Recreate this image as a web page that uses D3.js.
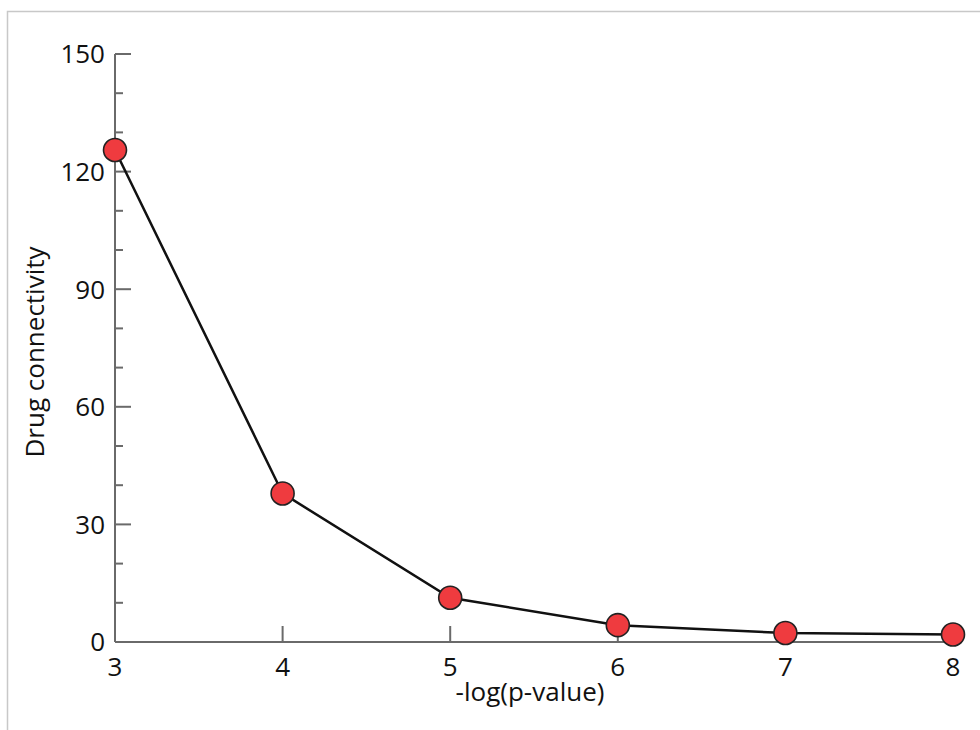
<!DOCTYPE html>
<html><head><meta charset="utf-8">
<script src="https://cdn.jsdelivr.net/npm/d3@7"></script>
<style>body{margin:0;background:#fff}svg{display:block}text{font-family:"Open Sans",sans-serif;fill:#111}</style>
</head><body>
<svg id="c" width="980" height="730"></svg>
<script>
const xValues = [3, 4, 5, 6, 7, 8];
const connectivity = [125.5, 37.9, 11.3, 4.3, 2.3, 1.9];
const yMajorTicks = [0, 30, 60, 90, 120, 150];
const yMinorTicks = [10, 20, 40, 50, 70, 80, 100, 110, 130, 140];
const xTicks = [3, 4, 5, 6, 7, 8];
const xLabel = "-log(p-value)";
const yLabel = "Drug connectivity";

const svg = d3.select("#c");
// frame
svg.append("path").attr("d","M7.5,730 V11.5 H980").attr("fill","none").attr("stroke","#c8c8c8").attr("stroke-width",1.5);

const x = d3.scaleLinear().domain([3,8]).range([115,953]);
const y = d3.scaleLinear().domain([0,150]).range([642,54]);
const axisColor = "#6a6a6a";

// y axis
const gy = svg.append("g");
gy.append("line").attr("x1",x(3)).attr("x2",x(3)).attr("y1",y(0)).attr("y2",y(150)).attr("stroke",axisColor).attr("stroke-width",2);
gy.selectAll(".maj").data(yMajorTicks).join("line").attr("x1",x(3)).attr("x2",x(3)+16).attr("y1",d=>y(d)).attr("y2",d=>y(d)).attr("stroke",axisColor).attr("stroke-width",2);
gy.selectAll(".min").data(yMinorTicks).join("line").attr("x1",x(3)).attr("x2",x(3)+8).attr("y1",d=>y(d)).attr("y2",d=>y(d)).attr("stroke",axisColor).attr("stroke-width",2);
gy.selectAll("text").data(yMajorTicks).join("text").attr("x",105).attr("y",d=>y(d)).attr("dy","0.36em").attr("text-anchor","end").attr("font-size",26).text(d=>d);

// x axis
const gx = svg.append("g");
gx.append("line").attr("x1",x(3)).attr("x2",x(8)).attr("y1",y(0)).attr("y2",y(0)).attr("stroke",axisColor).attr("stroke-width",2);
gx.selectAll("line.t").data(xTicks).join("line").attr("class","t").attr("x1",d=>x(d)).attr("x2",d=>x(d)).attr("y1",y(0)).attr("y2",y(0)-16).attr("stroke",axisColor).attr("stroke-width",2);
gx.selectAll("text").data(xTicks).join("text").attr("x",d=>x(d)).attr("y",y(0)+34).attr("text-anchor","middle").attr("font-size",26).text(d=>d);

svg.append("text").attr("x",530).attr("y",701).attr("text-anchor","middle").attr("font-size",26).text(xLabel);
svg.append("text").attr("transform","translate(44,352) rotate(-90)").attr("text-anchor","middle").attr("font-size",26).text(yLabel);

const data = xValues.map((v,i)=>({x:v,y:connectivity[i]}));
svg.append("path").datum(data).attr("d",d3.line().x(d=>x(d.x)).y(d=>y(d.y))).attr("fill","none").attr("stroke","#111").attr("stroke-width",2.5);
svg.selectAll("circle").data(data).join("circle").attr("cx",d=>x(d.x)).attr("cy",d=>y(d.y)).attr("r",11.5).attr("fill","#ef3b3f").attr("stroke","#222").attr("stroke-width",1.6);
</script>
</body></html>
